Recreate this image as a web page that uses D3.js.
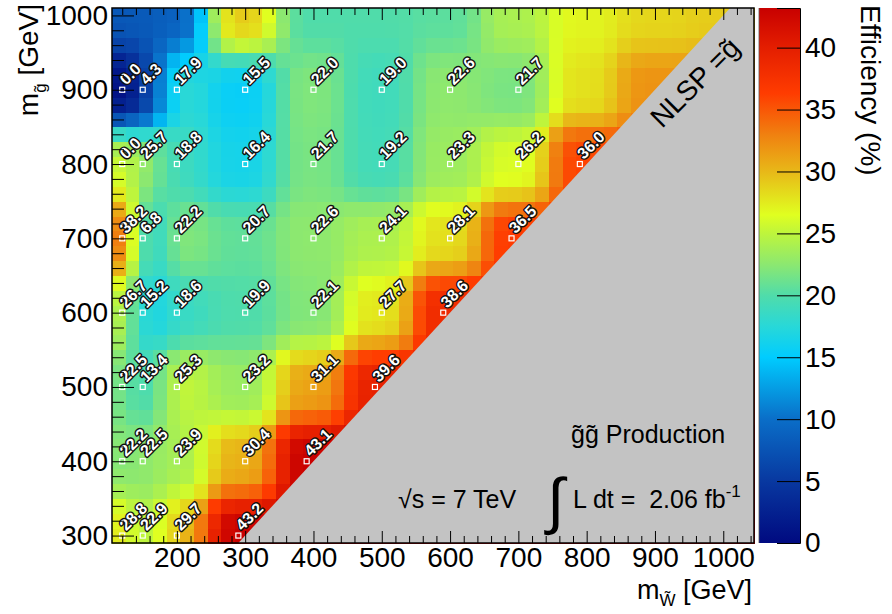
<!DOCTYPE html>
<html lang="en">
<head>
<meta charset="UTF-8">
<title>Efficiency map</title>
<script src="https://d3js.org/d3.v7.min.js"></script>
<style>
body { margin: 0; background: #fff; }
text { font-family: "Liberation Sans", Arial, sans-serif; fill: #000; }
.lbl {
    font-weight: bold;
    font-size: 16px;
    fill: #fff;
    stroke: #111;
    stroke-width: 2.8px;
    stroke-linejoin: round;
    paint-order: stroke;
}
</style>
</head>
<body>
<div id="chart"></div>
<script>
// gluino mass rows, and the labelled scan points of each row
const gluinoMass = [300, 400, 500, 600, 700, 800, 900]
const winoMass = [
    [120, 150, 200, 290],
    [120, 150, 200, 300, 390],
    [120, 150, 200, 300, 400, 490],
    [120, 150, 200, 300, 400, 500, 590],
    [120, 150, 200, 300, 400, 500, 600, 690],
    [120, 150, 200, 300, 400, 500, 600, 700, 790],
    [120, 150, 200, 300, 400, 500, 600, 700]
]
const efficiency = [
    [28.8, 22.9, 29.7, 43.2],
    [22.2, 22.5, 23.9, 30.4, 43.1],
    [22.5, 13.4, 25.3, 23.2, 31.1, 39.6],
    [26.7, 15.2, 18.6, 19.9, 22.1, 27.7, 38.6],
    [38.2, 6.8, 22.2, 20.7, 22.6, 24.1, 28.1, 36.5],
    [0.0, 25.7, 18.8, 16.4, 21.7, 19.2, 23.3, 26.2, 36.0],
    [0.0, 4.3, 17.9, 15.5, 22.0, 19.0, 22.6, 21.7]
]
// unlabelled parts of the map
const extraMass900 = [800, 890]
const extraEff900 = [28, 32]
const topRowMass = [120, 150, 200, 300, 400, 500, 600, 700, 800, 900, 990]
const topRowEff = [8, 8, 9, 29, 20, 20, 20.5, 24, 27, 28.5, 29]
// map cells whose colour differs from the printed label
const fixWino = [120, 150, 150, 150]
const fixGluino = [800, 800, 700, 500]
const fixEff = [26, 23, 15, 18]

const xTicks = [200, 300, 400, 500, 600, 700, 800, 900, 1000]
const yTicks = [300, 400, 500, 600, 700, 800, 900, 1000]
const zTicks = [0, 5, 10, 15, 20, 25, 30, 35, 40]
const zMax = 43.2

const W = 892, H = 614
const frame = {left: 112, right: 754, top: 8, bottom: 543}
const bar = {left: 759, right: 800}
const binW = 20

// palette (rainbow as in the colour bar)
const zStops = [0, 5, 10, 15, 17.5, 20, 22.5, 25, 26.5, 30, 33, 36.3, 40, 43.2]
const zColors = ['#000a80', '#0838a0', '#0a6ec8', '#00ccff', '#28d8d8', '#50dcaa', '#8ce870',
                 '#bef53c', '#e0ff20', '#e8b818', '#f08010', '#ff3c00', '#e41e00', '#c80000']

let svg, x, y, z, color

function buildRows() {
    let rows = gluinoMass.map((mg, i) => ({mg: mg, xs: winoMass[i].slice(), vs: efficiency[i].slice()}))
    fixWino.forEach((m, i) => {
        let r = rows.find(r => r.mg == fixGluino[i])
        r.vs[r.xs.indexOf(m)] = fixEff[i]
    })
    let r900 = rows.find(r => r.mg == 900)
    extraMass900.forEach((m, i) => { r900.xs.push(m); r900.vs.push(extraEff900[i]) })
    rows.push({mg: 1000, xs: topRowMass, vs: topRowEff})
    return rows
}

// value of one bin: nearest row, nearest point(s) in that row
function rawValue(rows, cx, cy) {
    let row = rows.reduce((a, b) => Math.abs(b.mg - cy) < Math.abs(a.mg - cy) ? b : a)
    let d = row.xs.map(m => Math.abs(m - cx))
    let dmin = d3.min(d)
    let picked = row.vs.filter((v, i) => d[i] - dmin < 0.01)
    return d3.mean(picked)
}

function smooth(grid) {
    const k5a = [
        [0, 0, 1, 0, 0],
        [0, 2, 2, 2, 0],
        [1, 2, 5, 2, 1],
        [0, 2, 2, 2, 0],
        [0, 0, 1, 0, 0]
    ]
    let ny = grid.length, nx = grid[0].length
    return grid.map((rowArr, j) => rowArr.map((v, i) => {
        let s = 0, w = 0
        for (let a = -2; a <= 2; a++) {
            for (let b = -2; b <= 2; b++) {
                let jj = j + a, ii = i + b
                if (jj < 0 || jj >= ny || ii < 0 || ii >= nx) continue
                let k = k5a[a + 2][b + 2]
                s += k * grid[jj][ii]; w += k
            }
        }
        return s / w
    }))
}

function getSvg() {
    svg = d3.select('#chart').append('svg')
        .attr('width', W).attr('height', H)
        .style('display', 'block')
    x = d3.scaleLinear().domain([105, 1045]).range([frame.left, frame.right])
    y = d3.scaleLinear().domain([290, 1010]).range([frame.bottom, frame.top])
    z = d3.scaleLinear().domain([0, zMax]).range([frame.bottom, frame.top])
    color = d3.scaleLinear().domain(zStops).range(zColors).clamp(true)
}

function drawCells() {
    let rows = buildRows()
    let xs = d3.range(105, 1045, binW)
    let ys = d3.range(290, 1010, binW)
    let grid = ys.map(by => xs.map(bx => rawValue(rows, bx + binW / 2, by + binW / 2)))
    grid = smooth(grid)
    let cells = []
    ys.forEach((by, j) => xs.forEach((bx, i) => cells.push({bx: bx, by: by, v: grid[j][i]})))
    svg.append('g').attr('shape-rendering', 'crispEdges')
        .selectAll('rect').data(cells).enter().append('rect')
        .attr('x', d => x(d.bx))
        .attr('y', d => y(d.by + binW))
        .attr('width', d => x(d.bx + binW) - x(d.bx) + 0.5)
        .attr('height', d => y(d.by) - y(d.by + binW) + 0.5)
        .attr('fill', d => color(d.v))
}

function drawExcluded() {
    // region where the NLSP would be heavier than the gluino
    let pts = [[290, 290], [1010, 1010], [1045, 1010], [1045, 290]]
    svg.append('polygon')
        .attr('points', pts.map(p => x(p[0]) + ',' + y(p[1])).join(' '))
        .attr('fill', '#c3c3c3')
}

function drawPoints() {
    let pts = []
    gluinoMass.forEach((mg, i) => winoMass[i].forEach((m, k) => pts.push({mw: m, mg: mg, v: efficiency[i][k]})))
    let g = svg.append('g')
    g.selectAll('rect').data(pts).enter().append('rect')
        .attr('x', d => x(d.mw) - 2.5).attr('y', d => y(d.mg) - 2.5)
        .attr('width', 5).attr('height', 5)
        .attr('fill', 'none').attr('stroke', '#fff').attr('stroke-width', 1.2)
    g.selectAll('text').data(pts).enter().append('text')
        .attr('class', 'lbl')
        .attr('transform', d => `translate(${x(d.mw) + 4},${y(d.mg) - 4}) rotate(-45)`)
        .text(d => d.v.toFixed(1))
}

function minors(domain, major) {
    return d3.range(domain[0], domain[1] + 1, 20).filter(v => major.indexOf(v) < 0)
}

function drawAxes() {
    let xMinor = minors([120, 1040], xTicks)
    let yMinor = minors([300, 1000], yTicks)
    let style = g => g.call(a => a.select('.domain').remove())
        .attr('font-family', '"Liberation Sans", Arial, sans-serif').attr('font-size', 28)
    svg.append('g').attr('transform', `translate(0,${frame.bottom})`)
        .call(d3.axisBottom(x).tickValues(xTicks).tickSize(-12).tickPadding(4).tickFormat(d3.format('d')))
        .call(style)
    svg.append('g').attr('transform', `translate(0,${frame.bottom})`)
        .call(d3.axisBottom(x).tickValues(xMinor).tickSize(-7).tickFormat('')).call(style)
    svg.append('g').attr('transform', `translate(0,${frame.top})`)
        .call(d3.axisTop(x).tickValues(xTicks).tickSize(-12).tickFormat('')).call(style)
    svg.append('g').attr('transform', `translate(0,${frame.top})`)
        .call(d3.axisTop(x).tickValues(xMinor).tickSize(-7).tickFormat('')).call(style)
    svg.append('g').attr('transform', `translate(${frame.left},0)`)
        .call(d3.axisLeft(y).tickValues(yTicks).tickSize(-22).tickPadding(4).tickFormat(d3.format('d')))
        .call(style)
    svg.append('g').attr('transform', `translate(${frame.left},0)`)
        .call(d3.axisLeft(y).tickValues(yMinor).tickSize(-12).tickFormat('')).call(style)
    svg.selectAll('.tick line').attr('stroke', '#000')

    svg.append('rect')
        .attr('x', frame.left).attr('y', frame.top)
        .attr('width', frame.right - frame.left).attr('height', frame.bottom - frame.top)
        .attr('fill', 'none').attr('stroke', '#000').attr('stroke-width', 1.5)
}

function drawColorBar() {
    let grad = svg.append('defs').append('linearGradient')
        .attr('id', 'zgrad').attr('x1', 0).attr('y1', 1).attr('x2', 0).attr('y2', 0)
    zStops.forEach((s, i) => grad.append('stop').attr('offset', s / zMax).attr('stop-color', zColors[i]))
    svg.append('rect')
        .attr('x', bar.left).attr('y', frame.top)
        .attr('width', bar.right - bar.left).attr('height', frame.bottom - frame.top)
        .attr('fill', 'url(#zgrad)')
    svg.append('g').attr('transform', `translate(${bar.right},0)`)
        .call(d3.axisRight(z).tickValues(zTicks).tickSize(-23).tickPadding(5))
        .call(g => g.select('.domain').attr('stroke', '#000'))
        .attr('font-family', '"Liberation Sans", Arial, sans-serif').attr('font-size', 28)
    svg.append('line').attr('x1', bar.left).attr('x2', bar.left)
        .attr('y1', frame.top).attr('y2', frame.bottom).attr('stroke', '#555').attr('stroke-width', 0.8)
    svg.append('text')
        .attr('transform', 'translate(861,5) rotate(90)')
        .attr('font-size', 28)
        .text('Efficiency (%)')
}

function drawTitles() {
    let xt = svg.append('text').attr('x', 752).attr('y', 599)
        .attr('text-anchor', 'end').attr('font-size', 27)
    xt.append('tspan').text('m')
    xt.append('tspan').attr('font-size', 17).attr('dy', 7).text('W\u0303')
    xt.append('tspan').attr('dy', -7).text(' [GeV]')

    let yt = svg.append('text').attr('transform', 'translate(38,4) rotate(-90)')
        .attr('text-anchor', 'end').attr('font-size', 28)
    yt.append('tspan').text('m')
    yt.append('tspan').attr('font-size', 17).attr('dy', 8).text('g\u0303')
    yt.append('tspan').attr('dy', -8).text(' [GeV]')

    svg.append('text').attr('transform', 'translate(662,129) rotate(-45)')
        .attr('font-size', 28).text('NLSP =g\u0303')

    svg.append('text').attr('x', 571).attr('y', 443).attr('font-size', 25)
        .text('g\u0303g\u0303 Production')
    svg.append('text').attr('x', 398).attr('y', 508).attr('font-size', 25)
        .text('\u221As = 7 TeV')
    svg.append('text').attr('x', 547).attr('y', 522).attr('font-size', 62).text('\u222B')
    let lumi = svg.append('text').attr('x', 573).attr('y', 508).attr('font-size', 25)
    lumi.append('tspan').text('L dt =\u00a0 2.06 fb')
    lumi.append('tspan').attr('font-size', 17).attr('dy', -11).text('-1')
}

function drawChart() {
    getSvg()
    drawCells()
    drawExcluded()
    drawPoints()
    drawAxes()
    drawColorBar()
    drawTitles()
}

drawChart()
</script>
</body>
</html>
